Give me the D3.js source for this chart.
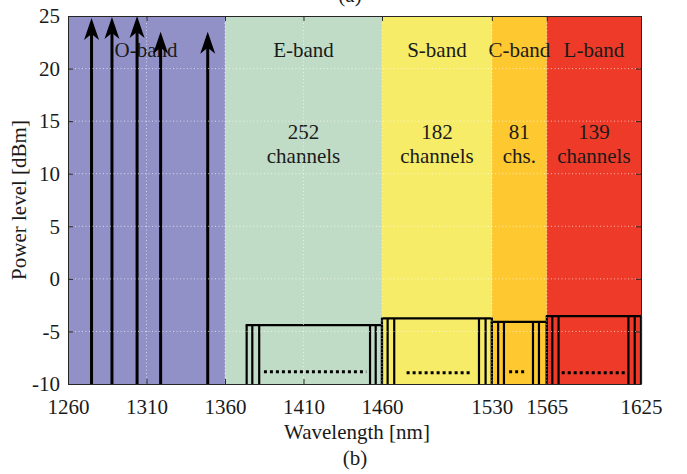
<!DOCTYPE html>
<html>
<head>
<meta charset="utf-8">
<script src="https://cdn.jsdelivr.net/npm/d3@7"></script>
<style>
  body { margin: 0; background: white; }
  text { font-family: "Liberation Serif", "DejaVu Serif", serif; fill: #1a1a1a; }
</style>
</head>
<body>
<svg id="chart" width="687" height="474"></svg>
<script>
// bands
const bandNames = ['O-band', 'E-band', 'S-band', 'C-band', 'L-band'];
const bandEdges = [1260, 1360, 1460, 1530, 1565, 1625];
const bandColors = ['#9191c7', '#c0dcc7', '#f6ec68', '#fdc830', '#ee3a28'];
const chanCounts = ['', '252', '182', '81', '139'];
const chanWords = ['', 'channels', 'channels', 'chs.', 'channels'];

// O-band lasers (arrows)
const arrowWl = [1275, 1288, 1304, 1319, 1349];
const arrowPower = [24.8, 24.9, 25, 23.5, 23.5];

// channel combs for E, S, C, L
const boxLevel = [-4.4, -3.76, -4.09, -3.54];
const chanWl = [
  [1373.8, 1377.4, 1381.8, 1452.4, 1456, 1460],
  [1460, 1463.6, 1467.8, 1521.8, 1526, 1530],
  [1530, 1534, 1537.7, 1556.2, 1560, 1565],
  [1565, 1568.5, 1572.5, 1617, 1621, 1625]
];
const dotLevel = [-8.84, -8.94, -8.84, -8.94];
const dotStart = [1384.8, 1475.7, 1541, 1574.5];
const dotEnd = [1450, 1517, 1552, 1616];

const xTicks = [1260, 1310, 1360, 1410, 1460, 1530, 1565, 1625];
const yTicks = [-10, -5, 0, 5, 10, 15, 20, 25];

const svg = d3.select('#chart');
const pLeft = 68, pRight = 641, pTop = 16, pBottom = 384;
const fs = '21px';

const x = d3.scaleLinear().domain([1260, 1625]).range([pLeft, pRight]);
const y = d3.scaleLinear().domain([-10, 25]).range([pBottom, pTop]);

// band backgrounds
svg.append('g').selectAll('rect').data(bandNames).join('rect')
  .attr('x', (d, i) => x(bandEdges[i]))
  .attr('width', (d, i) => x(bandEdges[i + 1]) - x(bandEdges[i]))
  .attr('y', pTop).attr('height', pBottom - pTop)
  .attr('fill', (d, i) => bandColors[i]);

// band labels
const mid = i => x((bandEdges[i] + bandEdges[i + 1]) / 2);
svg.append('g').selectAll('text').data(bandNames).join('text')
  .attr('x', (d, i) => i === 0 ? 146 : mid(i))
  .attr('y', 57).attr('text-anchor', 'middle').style('font-size', fs)
  .text(d => d);
svg.append('g').selectAll('text').data(chanCounts).join('text')
  .attr('x', (d, i) => mid(i)).attr('y', 139)
  .attr('text-anchor', 'middle').style('font-size', fs).text(d => d);
svg.append('g').selectAll('text').data(chanWords).join('text')
  .attr('x', (d, i) => mid(i)).attr('y', 163)
  .attr('text-anchor', 'middle').style('font-size', fs).text(d => d);

// channel combs
const combs = svg.append('g');
chanWl.forEach((wls, b) => {
  combs.selectAll(null).data(wls).join('line')
    .attr('x1', d => x(d)).attr('x2', d => x(d))
    .attr('y1', y(-10)).attr('y2', y(boxLevel[b]))
    .attr('stroke', 'black').attr('stroke-width', 2.2);
  combs.append('line')
    .attr('x1', x(wls[0]) - 1).attr('x2', x(wls[wls.length - 1]) + 1)
    .attr('y1', y(boxLevel[b])).attr('y2', y(boxLevel[b]))
    .attr('stroke', 'black').attr('stroke-width', 2.2);
  combs.append('line')
    .attr('x1', x(dotStart[b])).attr('x2', x(dotEnd[b]))
    .attr('y1', y(dotLevel[b])).attr('y2', y(dotLevel[b]))
    .attr('stroke', 'black').attr('stroke-width', 3)
    .attr('stroke-dasharray', '3,3');
});

// arrows
const arrows = svg.append('g');
arrows.selectAll('line').data(arrowWl).join('line')
  .attr('x1', d => x(d)).attr('x2', d => x(d))
  .attr('y1', y(-10)).attr('y2', (d, i) => y(arrowPower[i]) + 12)
  .attr('stroke', 'black').attr('stroke-width', 3);
arrows.selectAll('path').data(arrowWl).join('path')
  .attr('d', (d, i) => {
    const px = x(d), py = y(arrowPower[i]);
    return `M${px},${py} L${px + 7.5},${py + 22} L${px},${py + 16} L${px - 7.5},${py + 22} Z`;
  })
  .attr('fill', 'black');

// grid (on top, like MATLAB layer top)
const grid = svg.append('g').attr('stroke', 'white').attr('stroke-opacity', 0.65)
  .attr('stroke-width', 1).attr('stroke-dasharray', '1,2.5');
grid.selectAll('.gx').data(xTicks.slice(1, -1)).join('line')
  .attr('x1', d => x(d)).attr('x2', d => x(d)).attr('y1', pTop).attr('y2', pBottom);
grid.selectAll('.gy').data(yTicks.slice(1, -1)).join('line')
  .attr('y1', d => y(d)).attr('y2', d => y(d)).attr('x1', pLeft).attr('x2', pRight);

// axes
const axisColor = '#262626';
svg.append('g').attr('transform', `translate(0,${pBottom})`)
  .call(d3.axisBottom(x).tickValues(xTicks).tickFormat(d => String(d)).tickSizeInner(-5).tickSizeOuter(0).tickPadding(15));
svg.append('g').attr('transform', `translate(${pLeft},0)`)
  .call(d3.axisLeft(y).tickValues(yTicks).tickFormat(d => String(d)).tickSizeInner(-5).tickSizeOuter(0).tickPadding(8));
svg.append('g').attr('transform', `translate(0,${pTop})`)
  .call(d3.axisTop(x).tickValues(xTicks).tickFormat('').tickSizeInner(-5).tickSizeOuter(0));
svg.append('g').attr('transform', `translate(${pRight},0)`)
  .call(d3.axisRight(y).tickValues(yTicks).tickFormat('').tickSizeInner(-5).tickSizeOuter(0));
svg.selectAll('.domain, .tick line').attr('stroke', axisColor);
svg.selectAll('.tick text').style('font-size', fs).attr('fill', '#1a1a1a')
  .style('font-family', '"Liberation Serif", serif');

// axis titles
svg.append('text').attr('x', 357).attr('y', 439).attr('text-anchor', 'middle')
  .style('font-size', fs).text('Wavelength [nm]');
svg.append('text').attr('transform', 'translate(26,200) rotate(-90)')
  .attr('text-anchor', 'middle').style('font-size', fs).text('Power level [dBm]');
svg.append('text').attr('x', 355).attr('y', 465).attr('text-anchor', 'middle')
  .style('font-size', fs).text('(b)');
svg.append('text').attr('x', 350).attr('y', 2).attr('text-anchor', 'middle')
  .style('font-size', fs).text('(a)');
</script>
</body>
</html>
